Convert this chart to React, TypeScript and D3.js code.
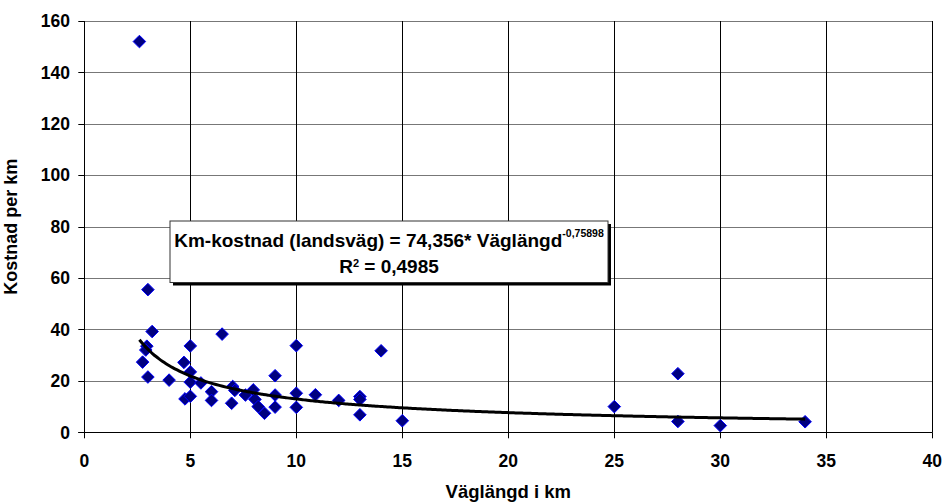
import React from "react";
import * as d3 from "d3";

// Road length (km) and cost per km
const lengthKm: number[] = [
  2.6, 3.0, 3.2, 2.95, 2.9, 2.75, 3.0, 4.0, 4.7, 4.75, 5.0, 5.0, 5.0, 5.0, 5.5,
  6.0, 6.0, 6.5, 7.0, 6.95, 7.1, 7.6, 7.97, 8.05, 8.2, 8.5, 9.0, 9.0, 9.0, 10.0,
  10.0, 10.0, 10.9, 12.0, 13.0, 13.0, 13.0, 14.0, 15.0, 25.0, 28.0, 28.0, 30.0, 34.0,
];
const costPerKm: number[] = [
  152, 55.5, 39.2, 33.5, 32, 27.3, 21.5, 20.3, 27.2, 13, 33.6, 23.5, 19.5, 14, 19.2,
  15.8, 12.4, 38.2, 17.8, 11.3, 16.3, 14.5, 16.5, 12.8, 10, 7.4, 22, 14.5, 9.8, 33.7,
  15.2, 9.7, 14.6, 12.4, 13.9, 12.8, 6.8, 31.7, 4.5, 10, 22.8, 4.2, 2.6, 4.1,
];

const xTicks: number[] = [0, 5, 10, 15, 20, 25, 30, 35, 40];
const yTicks: number[] = [0, 20, 40, 60, 80, 100, 120, 140, 160];

// Power trend: cost = a * length^b
const trendA = 74.356;
const trendB = -0.75898;
const trendRange: [number, number] = [2.6, 34];

const W = 944;
const H = 502;
const left = 84.3;
const right = 932.3;
const top = 21;
const bottom = 432.3;
const font = "'Liberation Sans', Arial, sans-serif";

export default function App() {
  const x = d3.scaleLinear().domain([0, 40]).range([left, right]);
  const y = d3.scaleLinear().domain([0, 160]).range([bottom, top]);

  const trendPts: [number, number][] = d3
    .range(0, 201)
    .map((i) => trendRange[0] + ((trendRange[1] - trendRange[0]) * i) / 200)
    .map((v) => [v, trendA * Math.pow(v, trendB)]);
  const line = d3
    .line<[number, number]>()
    .x((d) => x(d[0]))
    .y((d) => y(d[1]))
    .curve(d3.curveMonotoneX);

  const r = 6.3;
  const diamond = (cx: number, cy: number) =>
    `M${cx},${cy - r}L${cx + r},${cy}L${cx},${cy + r}L${cx - r},${cy}Z`;

  const boxX = 170;
  const boxY = 221;
  const boxW = 438;
  const boxH = 61.5;
  const cx = boxX + boxW / 2;

  return (
    <svg width={W} height={H} style={{ position: "absolute", left: 0, top: 0 }}>
      <rect x={0} y={0} width={W} height={H} fill="#fff" />
      {/* grid */}
      {yTicks.map((t) => (
        <line
          key={"gy" + t}
          x1={left}
          x2={right}
          y1={Math.round(y(t)) + 0.5}
          y2={Math.round(y(t)) + 0.5}
          stroke="#777"
          strokeWidth={1}
        />
      ))}
      {xTicks.map((t) => (
        <line
          key={"gx" + t}
          x1={Math.round(x(t)) + 0.5}
          x2={Math.round(x(t)) + 0.5}
          y1={top}
          y2={bottom}
          stroke="#000"
          strokeWidth={1}
        />
      ))}
      {/* axes */}
      <line x1={Math.round(left) + 0.5} x2={Math.round(left) + 0.5} y1={top} y2={bottom + 5} stroke="#000" />
      <line x1={left - 6} x2={right} y1={Math.round(bottom) + 0.5} y2={Math.round(bottom) + 0.5} stroke="#000" />
      {yTicks.map((t) => (
        <g key={"ty" + t}>
          <line x1={left - 6} x2={left} y1={Math.round(y(t)) + 0.5} y2={Math.round(y(t)) + 0.5} stroke="#000" />
          <text
            x={70}
            y={y(t) + 6.2}
            textAnchor="end"
            fontFamily={font}
            fontWeight="bold"
            fontSize={17.5}
            fill="#000"
          >
            {t}
          </text>
        </g>
      ))}
      {xTicks.map((t) => (
        <g key={"tx" + t}>
          <line x1={Math.round(x(t)) + 0.5} x2={Math.round(x(t)) + 0.5} y1={bottom} y2={bottom + 6} stroke="#000" />
          <text
            x={x(t)}
            y={467}
            textAnchor="middle"
            fontFamily={font}
            fontWeight="bold"
            fontSize={17.5}
            fill="#000"
          >
            {t}
          </text>
        </g>
      ))}
      {/* axis titles */}
      <text
        transform={`translate(17,${(top + bottom) / 2}) rotate(-90)`}
        textAnchor="middle"
        fontFamily={font}
        fontWeight="bold"
        fontSize={18}
        fill="#000"
      >
        Kostnad per km
      </text>
      <text
        x={(left + right) / 2}
        y={498}
        textAnchor="middle"
        fontFamily={font}
        fontWeight="bold"
        fontSize={18.5}
        fill="#000"
      >
        Väglängd i km
      </text>
      {/* points */}
      {lengthKm.map((v, i) => (
        <path
          key={"p" + i}
          d={diamond(x(v), y(costPerKm[i]))}
          fill="#000080"
          stroke="#0000ff"
          strokeWidth={1}
        />
      ))}
      {/* trend line */}
      <path d={line(trendPts) ?? ""} fill="none" stroke="#000" strokeWidth={3} />
      {/* equation label */}
      <rect x={boxX + 3} y={boxY + 3} width={boxW} height={boxH} fill="#000" />
      <rect x={boxX} y={boxY} width={boxW} height={boxH} fill="#fff" stroke="#333" strokeWidth={1} />
      <text
        x={cx}
        y={boxY + 25.7}
        textAnchor="middle"
        fontFamily={font}
        fontWeight="bold"
        fontSize={19}
        fill="#000"
      >
        Km-kostnad (landsväg) = 74,356* Väglängd
        <tspan fontSize={10.5} dy={-10}>-0,75898</tspan>
      </text>
      <text
        x={cx}
        y={boxY + 52.3}
        textAnchor="middle"
        fontFamily={font}
        fontWeight="bold"
        fontSize={19}
        fill="#000"
      >
        R<tspan fontSize={11} dy={-6}>2</tspan>
        <tspan dy={6}> = 0,4985</tspan>
      </text>
    </svg>
  );
}
